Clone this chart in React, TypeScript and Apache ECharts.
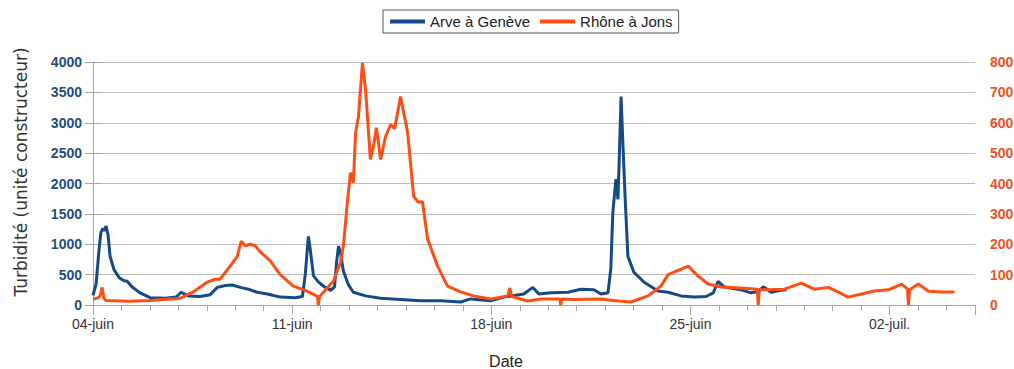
import React, { useEffect, useRef } from "react";
import * as echarts from "echarts";

// x values are days elapsed since 04-juin
const dateLabels = ["04-juin", "11-juin", "18-juin", "25-juin", "02-juil."];
const leftTicks = [0, 4000, 500];
const rightTicks = [0, 800, 100];

const arveDays = [
  0.0, 0.11, 0.21, 0.28, 0.35, 0.39, 0.46, 0.53, 0.6, 0.74, 0.92, 1.09, 1.2, 1.37, 1.65, 2.01, 2.54, 2.92,
  3.1, 3.35, 3.77, 4.12, 4.37, 4.65, 4.89, 5.18, 5.46, 5.77, 6.13, 6.58, 7.11, 7.36, 7.46, 7.57, 7.64, 7.75,
  7.92, 8.13, 8.35, 8.49, 8.56, 8.63, 8.7, 8.8, 8.98, 9.15, 9.58, 10.11, 10.81, 11.51, 12.22, 12.92, 13.27,
  13.98, 14.44, 15.14, 15.46, 15.67, 16.09, 16.69, 17.15, 17.61, 17.85, 18.1, 18.2, 18.27, 18.38, 18.45,
  18.49, 18.56, 18.63, 18.7, 18.8, 19.01, 19.37, 19.86, 20.21, 20.67, 21.13, 21.55, 21.8, 21.97, 22.18,
  22.5, 22.78, 23.13, 23.38, 23.56, 23.84, 24.12, 24.37,
];
const arveValues = [
  160, 350, 900, 1200, 1260, 1220, 1300, 1150, 800, 580, 450, 400, 390, 300, 200, 120, 110, 130,
  210, 150, 140, 170, 290, 320, 330, 290, 260, 210, 180, 130, 120, 140, 500, 1130, 900, 480,
  380, 300, 240, 300, 700, 970, 850, 560, 330, 210, 150, 110, 90, 70, 70, 50, 100,
  70, 130, 180, 290, 180, 200, 210, 260, 250, 180, 200, 600, 1520, 2070, 1740,
  2300, 3430, 2600, 1800, 800, 540, 375, 230, 210, 150, 130, 140, 200, 390, 300,
  270, 250, 200, 220, 300, 210, 240, 250,
];

const rhoneDays = [
  0.0, 0.14, 0.25, 0.32, 0.39, 0.46, 1.3, 2.01, 2.71, 3.06, 3.52, 4.01, 4.3, 4.47, 4.82, 5.07, 5.21, 5.35,
  5.53, 5.7, 5.88, 6.23, 6.58, 7.04, 7.46, 7.75, 7.89, 7.92, 7.96, 8.1, 8.45, 8.7, 8.8, 8.94, 9.05, 9.15,
  9.23, 9.33, 9.47, 9.58, 9.75, 9.86, 9.96, 10.11, 10.28, 10.46, 10.6, 10.81, 11.06, 11.27, 11.44, 11.58,
  11.76, 12.11, 12.46, 12.92, 13.38, 13.98, 14.58, 14.65, 14.72, 15.28, 15.74, 16.41, 16.44, 16.48, 16.9,
  17.85, 18.45, 18.91, 19.51, 19.96, 20.21, 20.67, 20.92, 21.27, 21.62, 22.08, 22.78, 23.35, 23.38, 23.42,
  23.73, 24.3, 24.89, 25.35, 25.85, 26.55, 27.01, 27.46, 27.96, 28.42, 28.63, 28.66, 28.7, 29.01, 29.37,
  29.82, 30.28,
];
const rhoneValues = [
  20, 22, 30, 58, 20, 15, 12, 15, 20, 22, 43, 75, 85, 85, 128, 160, 210, 195,
  200, 195, 175, 145, 100, 62, 48, 35, 28, 0, 28, 42, 79, 141, 194, 338, 436, 403,
  567, 620, 797, 708, 479, 522, 584, 479, 554, 594, 580, 686, 567, 358, 338, 340,
  217, 128, 62, 43, 30, 20, 30, 56, 28, 13, 20, 20, 0, 20, 18,
  20, 13, 10, 30, 62, 100, 118, 128, 95, 69, 59, 56, 52, 0, 50,
  50, 52, 72, 52, 58, 26, 36, 46, 50, 69, 52, 0, 50, 69, 45,
  43, 43,
];

const zip = (xs: number[], ys: number[]) => xs.map((x, i) => [x, ys[i]]);

export default function App() {
  const ref = useRef<HTMLDivElement>(null);
  useEffect(() => {
    const chart = echarts.init(ref.current!, null, { renderer: "svg" });
    const axisGray = "#a6a6a6";
    chart.setOption({
      animation: false,
      backgroundColor: "#ffffff",
      grid: { left: 93, right: 65, top: 62, bottom: 64 },
      legend: {
        left: 383,
        top: 10,
        icon: "rect",
        itemWidth: 35,
        itemHeight: 4,
        itemGap: 10,
        borderColor: "#555",
        borderWidth: 1,
        padding: [4, 6, 4, 7],
        textStyle: { fontSize: 15, color: "#222", fontFamily: "Liberation Sans" },
        data: ["Arve à Genève", "Rhône à Jons"],
      },
      xAxis: [
        {
          type: "value",
          min: 0,
          max: 31,
          interval: 1,
          axisLine: { show: true, lineStyle: { color: axisGray } },
          axisTick: { show: true, length: 6, lineStyle: { color: axisGray } },
          axisLabel: { show: false },
          splitLine: { show: false },
        },
        {
          type: "value",
          min: 0,
          max: 31,
          interval: 7,
          position: "bottom",
          axisLine: { show: false },
          axisTick: { show: true, length: 10, lineStyle: { color: axisGray } },
          axisLabel: {
            margin: 12,
            fontSize: 14,
            color: "#333",
            fontFamily: "Liberation Sans",
            formatter: (v: number) => (v % 7 === 0 && dateLabels[v / 7] ? dateLabels[v / 7] : ""),
          },
          splitLine: { show: false },
        },
      ],
      yAxis: [
        {
          type: "value",
          min: leftTicks[0],
          max: leftTicks[1],
          interval: leftTicks[2],
          axisLine: { show: true, lineStyle: { color: axisGray } },
          axisTick: { show: true, length: 8, lineStyle: { color: axisGray } },
          splitLine: { show: true, lineStyle: { color: "#bdbdbd" } },
          axisLabel: {
            margin: 11,
            fontSize: 14,
            fontWeight: "bold",
            color: "#1f4e79",
            fontFamily: "Liberation Sans",
            formatter: (v: number) => String(v),
          },
        },
        {
          type: "value",
          min: rightTicks[0],
          max: rightTicks[1],
          interval: rightTicks[2],
          position: "right",
          axisLine: { show: true, lineStyle: { color: axisGray } },
          axisTick: { show: true, length: 8, lineStyle: { color: axisGray } },
          splitLine: { show: false },
          axisLabel: {
            margin: 15,
            fontSize: 14,
            fontWeight: "bold",
            color: "#f4511e",
            fontFamily: "Liberation Sans",
            formatter: (v: number) => String(v),
          },
        },
      ],
      graphic: [
        {
          type: "text",
          x: 21,
          y: 172,
          rotation: Math.PI / 2,
          style: {
            text: "Turbidité (unité constructeur)",
            font: "17px 'DejaVu Sans'",
            fill: "#333",
            align: "center",
            verticalAlign: "middle",
          },
        },
        {
          type: "text",
          x: 506,
          y: 361,
          style: {
            text: "Date",
            font: "16px 'Liberation Sans'",
            fill: "#222",
            align: "center",
            verticalAlign: "middle",
          },
        },
      ],
      series: [
        {
          name: "Arve à Genève",
          type: "line",
          xAxisIndex: 0,
          yAxisIndex: 0,
          showSymbol: false,
          color: "#134a87",
          lineStyle: { width: 3, color: "#134a87" },
          data: zip(arveDays, arveValues),
        },
        {
          name: "Rhône à Jons",
          type: "line",
          xAxisIndex: 0,
          yAxisIndex: 1,
          showSymbol: false,
          color: "#ff4d14",
          lineStyle: { width: 3, color: "#ff4d14" },
          data: zip(rhoneDays, rhoneValues),
        },
      ],
    });
    return () => chart.dispose();
  }, []);
  return (
    <div
      style={{
        position: "absolute",
        left: 0,
        top: 0,
        width: 1014,
        height: 369,
        overflow: "hidden",
        background: "#fff",
      }}
    >
      <div ref={ref} style={{ width: 1040, height: 369 }} />
    </div>
  );
}
